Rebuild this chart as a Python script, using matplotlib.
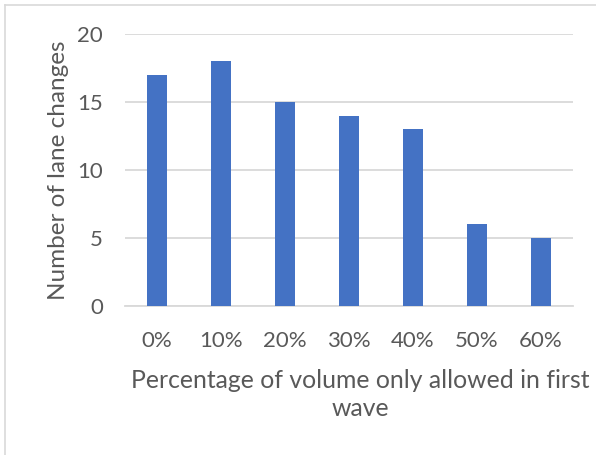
import matplotlib
matplotlib.use("Agg")
import matplotlib.pyplot as plt

categories = ["0%", "10%", "20%", "30%", "40%", "50%", "60%"]
lane_changes = [17, 18, 15, 14, 13, 6, 5]
y_ticks = [0, 5, 10, 15, 20]

text_color = "#595959"
grid_color = "#D9D9D9"
bar_color = "#4472C4"

plt.rcParams["font.family"] = ["Lato", "DejaVu Sans"]

fig = plt.figure(figsize=(5.96, 4.55), dpi=100)
ax = fig.add_axes([125 / 596, 1 - 306 / 455, 448 / 596, 272 / 455])

x = range(len(categories))
ax.bar(x, lane_changes, width=0.31, color=bar_color, zorder=3)

ax.set_xlim(-0.5, len(categories) - 0.5)
ax.set_ylim(0, 20)
ax.set_yticks(y_ticks)
ax.set_xticks(list(x))
ax.set_xticklabels(categories)
ax.yaxis.grid(True, color=grid_color, linewidth=1.3, zorder=0)
ax.set_axisbelow(True)
for side in ["top", "right", "left"]:
    ax.spines[side].set_visible(False)
ax.spines["bottom"].set_color(grid_color)
ax.spines["bottom"].set_linewidth(1.3)
ax.tick_params(axis="both", length=0, colors=text_color, labelsize=16)
ax.tick_params(axis="x", pad=18)
ax.tick_params(axis="y", pad=16)

ax.set_ylabel("Number of lane changes", fontsize=17.5, color=text_color, labelpad=6)
ax.set_xlabel("Percentage of volume only allowed in first\nwave", fontsize=17.8,
              color=text_color, labelpad=13, linespacing=1.25)
# the axis title sits slightly right of the plot centre
ax.xaxis.label.set_x(0.525)

# light frame along the top and left edges
fig.add_artist(plt.Line2D([4.5 / 596, 1], [1 - 4.5 / 455, 1 - 4.5 / 455],
                          color=grid_color, linewidth=1.2, transform=fig.transFigure))
fig.add_artist(plt.Line2D([4.5 / 596, 4.5 / 596], [0, 1 - 4.5 / 455],
                          color=grid_color, linewidth=1.2, transform=fig.transFigure))

fig.savefig("out.png", dpi=100)
